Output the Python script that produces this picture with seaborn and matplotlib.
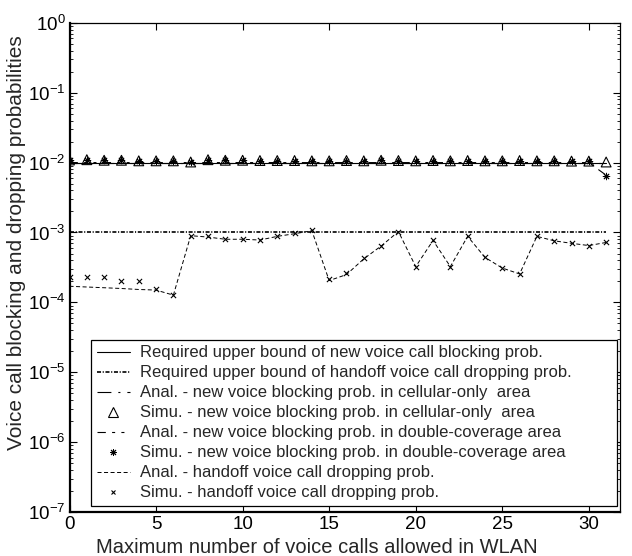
import matplotlib
matplotlib.use("Agg")
import matplotlib.pyplot as plt
import seaborn as sns
import numpy as np
import pandas as pd
from matplotlib.lines import Line2D
from matplotlib.ticker import FixedLocator, FixedFormatter, LogLocator, NullFormatter, NullLocator

# ---------------- data ----------------
x_calls = list(range(32))

req_new_bound = [1e-2] * 32
req_handoff_bound = [1e-3] * 32

anal_new_cell = [1e-2] * 32
sim_new_cell = [1.09e-2, 1.10e-2, 1.08e-2, 1.08e-2, 1.06e-2, 1.06e-2, 1.06e-2, 1.02e-2,
                1.10e-2, 1.08e-2, 1.08e-2, 1.07e-2, 1.07e-2, 1.07e-2, 1.06e-2, 1.06e-2,
                1.07e-2, 1.06e-2, 1.08e-2, 1.07e-2, 1.06e-2, 1.07e-2, 1.06e-2, 1.07e-2,
                1.06e-2, 1.06e-2, 1.07e-2, 1.06e-2, 1.06e-2, 1.05e-2, 1.05e-2, 1.02e-2]

anal_new_double = [1e-2] * 31 + [6.6e-3]
sim_new_double = [1.09e-2, 1.10e-2, 1.08e-2, 1.08e-2, 1.06e-2, 1.06e-2, 1.06e-2, 1.02e-2,
                  1.10e-2, 1.08e-2, 1.08e-2, 1.07e-2, 1.07e-2, 1.07e-2, 1.06e-2, 1.06e-2,
                  1.07e-2, 1.06e-2, 1.08e-2, 1.07e-2, 1.06e-2, 1.07e-2, 1.06e-2, 1.07e-2,
                  1.06e-2, 1.06e-2, 1.07e-2, 1.06e-2, 1.06e-2, 1.05e-2, 1.05e-2, 6.4e-3]

anal_handoff = [1.70e-4, 1.66e-4, 1.62e-4, 1.58e-4, 1.53e-4, 1.50e-4, 1.27e-4, 9.0e-4,
                8.6e-4, 8.0e-4, 8.0e-4, 7.8e-4, 8.8e-4, 9.6e-4, 1.06e-3, 2.05e-4,
                2.5e-4, 4.2e-4, 6.4e-4, 1.03e-3, 3.25e-4, 7.7e-4, 3.25e-4, 8.8e-4,
                4.4e-4, 3.1e-4, 2.55e-4, 8.8e-4, 7.6e-4, 7.0e-4, 6.5e-4, 7.2e-4]
sim_handoff = [2.30e-4, 2.30e-4, 2.28e-4, 2.00e-4, 2.00e-4, 1.57e-4, 1.29e-4, 9.0e-4,
               8.8e-4, 8.1e-4, 8.1e-4, 7.9e-4, 9.0e-4, 9.8e-4, 1.07e-3, 2.15e-4,
               2.6e-4, 4.3e-4, 6.45e-4, 1.03e-3, 3.25e-4, 7.7e-4, 3.25e-4, 8.8e-4,
               4.4e-4, 3.1e-4, 2.57e-4, 8.8e-4, 7.6e-4, 7.0e-4, 6.5e-4, 7.2e-4]

labels = [
    "Required upper bound of new voice call blocking prob.",
    "Required upper bound of handoff voice call dropping prob.",
    "Anal. - new voice blocking prob. in cellular-only  area",
    "Simu. - new voice blocking prob. in cellular-only  area",
    "Anal. - new voice blocking prob. in double-coverage area",
    "Simu. - new voice blocking prob. in double-coverage area",
    "Anal. - handoff voice call dropping prob.",
    "Simu. - handoff voice call dropping prob.",
]
y_tick_exps = [0, -1, -2, -3, -4, -5, -6, -7]
x_ticks = [0, 5, 10, 15, 20, 25, 30]

# ---------------- style ----------------
sns.set_style("ticks")
plt.rcParams["font.family"] = ["Liberation Sans", "DejaVu Sans"]
plt.rcParams["mathtext.default"] = "regular"
plt.rcParams["lines.scale_dashes"] = False

fig = plt.figure(figsize=(6.32, 5.56), dpi=100)
ax = fig.add_axes([0.110, 0.079, 0.871, 0.880])

ls_dashdot = (0, (2.9, 1.2, 0.8, 1.2))
ls_cell = (0, (10, 5, 1.5, 5))
ls_double = (0, (6, 4.5, 2.2, 4.5, 2.2, 4.5))
ls_handoff = (0, (2.9, 1.8))

asterisk = (8, 2, 0)

df = pd.DataFrame({
    "x": x_calls,
    "req_new": req_new_bound,
    "req_ho": req_handoff_bound,
    "anal_cell": anal_new_cell,
    "sim_cell": sim_new_cell,
    "anal_double": anal_new_double,
    "sim_double": sim_new_double,
    "anal_ho": anal_handoff,
    "sim_ho": sim_handoff,
})

sns.lineplot(data=df, x="x", y="anal_ho", ax=ax, color="k", linewidth=0.7,
             linestyle=ls_handoff)
sns.lineplot(data=df, x="x", y="req_ho", ax=ax, color="k", linewidth=1.2,
             linestyle=ls_dashdot)
sns.lineplot(data=df, x="x", y="anal_double", ax=ax, color="k", linewidth=0.8,
             linestyle=ls_double)
sns.lineplot(data=df, x="x", y="anal_cell", ax=ax, color="k", linewidth=0.8,
             linestyle=ls_cell)
sns.lineplot(data=df, x="x", y="req_new", ax=ax, color="k", linewidth=0.8,
             linestyle="-")

sns.scatterplot(data=df, x="x", y="sim_ho", ax=ax, marker="x", s=14,
                color="k", linewidth=0.8, zorder=5)
sns.scatterplot(data=df, x="x", y="sim_cell", ax=ax, marker="^", s=50,
                facecolor="none", edgecolor="k", linewidth=0.8, zorder=5)
sns.scatterplot(data=df, x="x", y="sim_double", ax=ax, marker=asterisk, s=22,
                color="k", edgecolor="k", linewidth=0.7, zorder=6)

ax.set_yscale("log")
ax.set_ylim(1e-7, 1e0)
ax.set_xlim(0, 31.8)

ax.yaxis.set_major_locator(FixedLocator([10.0 ** e for e in y_tick_exps]))
ax.yaxis.set_major_formatter(FixedFormatter([f"$10^{{{e}}}$" for e in y_tick_exps]))
ax.yaxis.set_minor_locator(LogLocator(base=10, subs=np.arange(2, 10), numticks=20))
ax.yaxis.set_minor_formatter(NullFormatter())
ax.xaxis.set_major_locator(FixedLocator(x_ticks))
ax.xaxis.set_minor_locator(NullLocator())

ax.tick_params(which="both", direction="in", top=True, right=True, labelsize=13.5,
               colors="k")
ax.tick_params(which="major", length=5, width=0.8)
ax.tick_params(which="minor", length=2.5, width=0.6)
ax.tick_params(axis="x", pad=3)
ax.tick_params(axis="y", pad=3)

for side in ["left", "bottom"]:
    ax.spines[side].set_linewidth(1.6)
for side in ["right", "top"]:
    ax.spines[side].set_linewidth(0.9)
for sp in ax.spines.values():
    sp.set_color("k")
    sp.set_visible(True)

ax.set_xlabel("Maximum number of voice calls allowed in WLAN", fontsize=14.5)
ax.set_ylabel("Voice call blocking and dropping probabilities", fontsize=15)
ax.xaxis.set_label_coords(0.45, -0.052)
ax.yaxis.set_label_coords(-0.079, 0.55)

handles = [
    Line2D([], [], color="k", linewidth=0.8, linestyle="-"),
    Line2D([], [], color="k", linewidth=1.2, linestyle=ls_dashdot),
    Line2D([], [], color="k", linewidth=0.8, linestyle=ls_cell),
    Line2D([], [], color="k", linestyle="none", marker="^", markersize=6.5,
           markerfacecolor="none", markeredgewidth=0.8),
    Line2D([], [], color="k", linewidth=0.8, linestyle=ls_double),
    Line2D([], [], color="k", linestyle="none", marker=asterisk, markersize=5,
           markeredgewidth=0.7),
    Line2D([], [], color="k", linewidth=0.7, linestyle=ls_handoff),
    Line2D([], [], color="k", linestyle="none", marker="x", markersize=3.5,
           markeredgewidth=0.8),
]
leg = ax.legend(handles, labels, loc="lower left",
                bbox_to_anchor=(0.039, 0.012, 0.955, 0.342), mode="expand",
                borderaxespad=0, fontsize=12, frameon=True, fancybox=False,
                handlelength=2.0, handletextpad=0.6, labelspacing=0.3,
                borderpad=0.35)
leg.get_frame().set_edgecolor("k")
leg.get_frame().set_linewidth(0.9)
leg.get_frame().set_facecolor("white")
leg.get_frame().set_alpha(1)

fig.savefig("out.png", dpi=100, facecolor="white")
